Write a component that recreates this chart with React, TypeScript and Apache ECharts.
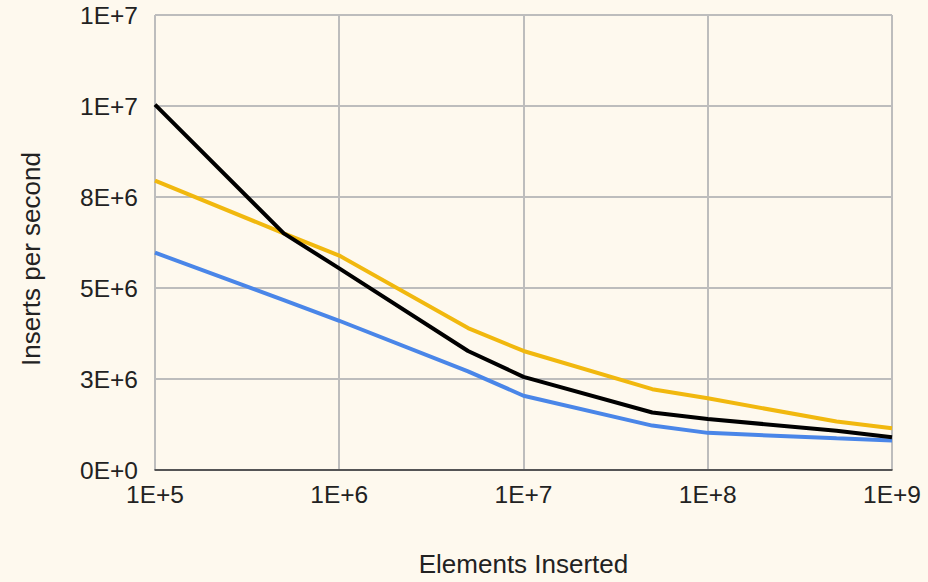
import React, { useEffect, useRef } from "react";
import * as echarts from "echarts";

const xValues = [1e5, 5e5, 1e6, 5e6, 1e7, 5e7, 1e8, 5e8, 1e9];
const blueValues = [5.97e6, 4.67e6, 4.1e6, 2.71e6, 2.04e6, 1.22e6, 1.02e6, 0.87e6, 0.81e6];
const yellowValues = [7.95e6, 6.5e6, 5.89e6, 3.9e6, 3.27e6, 2.22e6, 1.97e6, 1.33e6, 1.15e6];
const blackValues = [10.04e6, 6.5e6, 5.54e6, 3.27e6, 2.56e6, 1.58e6, 1.4e6, 1.08e6, 0.9e6];
const xAxisTitle = "Elements Inserted";
const yAxisTitle = "Inserts per second";

const fmt = (v: number) => v.toExponential(0).toUpperCase();
const pairs = (ys: number[]) => xValues.map((x, i) => [x, ys[i]]);

export default function App() {
  const ref = useRef<HTMLDivElement>(null);
  useEffect(() => {
    document.body.style.margin = "0";
    const chart = echarts.init(ref.current!, null, { renderer: "svg" });
    const font = "Liberation Sans, Arial, sans-serif";
    chart.setOption({
      animation: false,
      backgroundColor: "#FEF9EE",
      textStyle: { fontFamily: font },
      grid: { left: 155, right: 36, top: 15, bottom: 109, containLabel: false },
      xAxis: {
        type: "log",
        logBase: 10,
        min: 1e5,
        max: 1e9,
        name: xAxisTitle,
        nameLocation: "middle",
        nameGap: 81,
        nameTextStyle: { fontSize: 26, color: "#222", fontFamily: font },
        axisLine: { show: true, lineStyle: { color: "#333", width: 1.5 } },
        axisTick: { show: false },
        minorTick: { show: false },
        axisLabel: { formatter: fmt, fontSize: 24.5, color: "#222", margin: 12, fontFamily: font },
        splitLine: { show: true, lineStyle: { color: "#BDBDBD", width: 2 } },
      },
      yAxis: {
        type: "value",
        min: 0,
        max: 1.25e7,
        interval: 2.5e6,
        axisLine: { show: false },
        axisTick: { show: false },
        axisLabel: { formatter: fmt, fontSize: 24.5, color: "#222", margin: 17, fontFamily: font },
        splitLine: { show: true, lineStyle: { color: "#BDBDBD", width: 2 } },
      },
      graphic: [
        {
          type: "text",
          x: 31,
          y: 259,
          rotation: Math.PI / 2,
          style: {
            text: yAxisTitle,
            fontSize: 26,
            fill: "#222",
            fontFamily: font,
            align: "center",
            verticalAlign: "middle",
          },
        },
      ],
      series: [
        {
          name: "Blue",
          type: "line",
          data: pairs(blueValues),
          showSymbol: false,
          lineStyle: { color: "#4A86E8", width: 4 },
          itemStyle: { color: "#4A86E8" },
        },
        {
          name: "Yellow",
          type: "line",
          data: pairs(yellowValues),
          showSymbol: false,
          lineStyle: { color: "#F1B80E", width: 4 },
          itemStyle: { color: "#F1B80E" },
        },
        {
          name: "Black",
          type: "line",
          data: pairs(blackValues),
          showSymbol: false,
          lineStyle: { color: "#000000", width: 4 },
          itemStyle: { color: "#000000" },
        },
      ],
    });
    return () => chart.dispose();
  }, []);
  return <div ref={ref} style={{ position: "fixed", left: 0, top: 0, width: 928, height: 582 }} />;
}
